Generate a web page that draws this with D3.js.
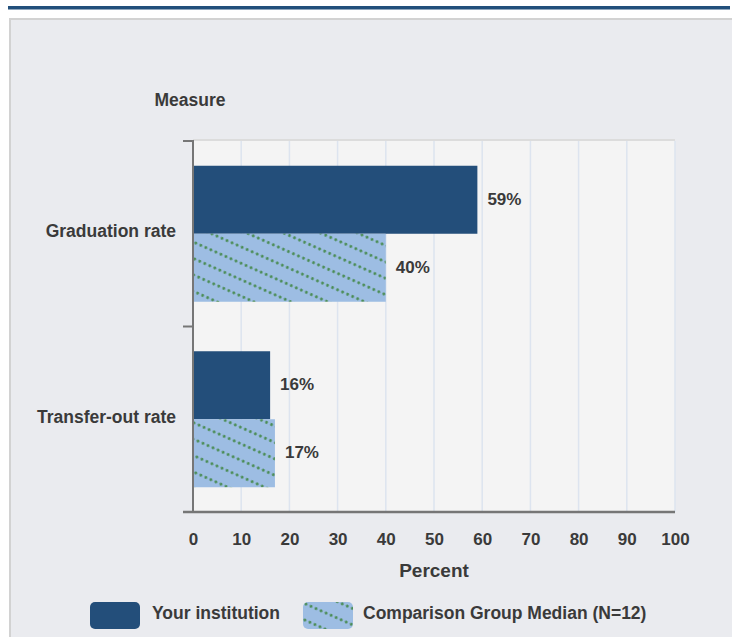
<!DOCTYPE html>
<html>
<head>
<meta charset="utf-8">
<script src="https://cdn.jsdelivr.net/npm/d3@7/dist/d3.min.js"></script>
<style>
  html, body { margin: 0; padding: 0; background: #ffffff; }
  svg { display: block; }
  text { font-family: "Liberation Sans", Arial, sans-serif; font-weight: bold; fill: #3a3a3a; }
</style>
</head>
<body>
<script>
const categories = ["Graduation rate", "Transfer-out rate"];
const seriesNames = ["Your institution", "Comparison Group Median (N=12)"];
const yourInstitution = [59, 16];
const comparisonMedian = [40, 17];
const xTickValues = [0, 10, 20, 30, 40, 50, 60, 70, 80, 90, 100];
const xTitle = "Percent";
const yTitle = "Measure";

const W = 732, H = 637;
const svg = d3.select("body").append("svg").attr("width", W).attr("height", H);

const defs = svg.append("defs");
const pat = defs.append("pattern")
  .attr("id", "hatch")
  .attr("patternUnits", "userSpaceOnUse")
  .attr("width", 5.5).attr("height", 15)
  .attr("patternTransform", "rotate(24)");
pat.append("rect").attr("width", 5.5).attr("height", 15).attr("fill", "#9dbde3");
pat.append("circle").attr("cx", 2.75).attr("cy", 7.5).attr("r", 1.45).attr("fill", "#4a8c55");

// top rule and panel
svg.append("rect").attr("x", 8).attr("y", 6).attr("width", 722).attr("height", 3.5).attr("fill", "#224f7b");
svg.append("rect").attr("x", 10).attr("y", 19).attr("width", 740).attr("height", 640)
  .attr("fill", "#eaebef").attr("stroke", "#d2d2d2").attr("stroke-width", 2);

const x = d3.scaleLinear().domain([0, 100]).range([193, 675]);
const y = d3.scaleBand().domain(categories).range([141, 512]).paddingInner(0).paddingOuter(0);
const ys = d3.scaleBand().domain(seriesNames).range([0, y.bandwidth()]).paddingInner(0).paddingOuter(0.364);

// plot background
svg.append("rect").attr("x", x(0)).attr("y", 140).attr("width", x(100) - x(0)).attr("height", 512 - 140)
  .attr("fill", "#f4f4f4");
svg.append("line").attr("x1", x(0)).attr("x2", x(100)).attr("y1", 140).attr("y2", 140)
  .attr("stroke", "#dcdcdc").attr("stroke-width", 2);

// gridlines
svg.append("g").selectAll("line").data(xTickValues.slice(1)).join("line")
  .attr("x1", d => x(d)).attr("x2", d => x(d))
  .attr("y1", 141).attr("y2", 512)
  .attr("stroke", "#dde4ef").attr("stroke-width", 1.5);

const series = [
  { name: seriesNames[0], values: yourInstitution, fill: "#234e7a" },
  { name: seriesNames[1], values: comparisonMedian, fill: "url(#hatch)" }
];

const gBars = svg.append("g");
series.forEach(s => {
  gBars.append("g").selectAll("rect").data(categories).join("rect")
    .attr("x", x(0))
    .attr("y", (c) => y(c) + ys(s.name))
    .attr("width", (c, i) => x(s.values[i]) - x(0))
    .attr("height", ys.bandwidth())
    .attr("fill", s.fill);
  gBars.append("g").selectAll("text").data(categories).join("text")
    .attr("x", (c, i) => x(s.values[i]) + 10)
    .attr("y", (c) => y(c) + ys(s.name) + ys.bandwidth() / 2)
    .attr("dy", "0.28em")
    .attr("font-size", 17)
    .text((c, i) => s.values[i] + "%");
});

// x axis
const xAxis = d3.axisBottom(x).tickValues(xTickValues).tickSize(0).tickPadding(21);
const gx = svg.append("g").attr("transform", "translate(0,512)").call(xAxis);
gx.select(".domain").remove();
gx.selectAll("text").attr("font-size", 17).attr("font-family", null).attr("fill", "#3a3a3a").attr("font-weight", "bold");
svg.append("line").attr("x1", 183).attr("x2", x(100)).attr("y1", 512).attr("y2", 512)
  .attr("stroke", "#767676").attr("stroke-width", 2.5);

// y axis
const yAxis = d3.axisLeft(y).tickSize(0).tickPadding(17);
const gy = svg.append("g").attr("transform", `translate(${x(0)},0)`).call(yAxis);
gy.select(".domain").remove();
gy.selectAll("text").attr("font-size", 17.5).attr("font-family", null).attr("fill", "#3a3a3a").attr("font-weight", "bold").attr("dy", "0.2em");
svg.append("line").attr("x1", x(0)).attr("x2", x(0)).attr("y1", 140).attr("y2", 513)
  .attr("stroke", "#767676").attr("stroke-width", 2);
const yBounds = [y.range()[0], y(categories[1])];
svg.append("g").selectAll("line").data(yBounds).join("line")
  .attr("x1", 183).attr("x2", x(0)).attr("y1", d => d).attr("y2", d => d)
  .attr("stroke", "#767676").attr("stroke-width", 2);

// titles
svg.append("text").attr("x", 190).attr("y", 106).attr("text-anchor", "middle").attr("font-size", 17.5).text(yTitle);
svg.append("text").attr("x", 434).attr("y", 577).attr("text-anchor", "middle").attr("font-size", 19).text(xTitle);

// legend
const legend = [
  { name: seriesNames[0], fill: "#234e7a", x: 90, tx: 152 },
  { name: seriesNames[1], fill: "url(#hatch)", x: 303, tx: 363 }
];
const gl = svg.append("g");
legend.forEach(l => {
  gl.append("rect").attr("x", l.x).attr("y", 602).attr("width", 50).attr("height", 27).attr("rx", 5)
    .attr("fill", l.fill);
  gl.append("text").attr("x", l.tx).attr("y", 613).attr("dy", "0.35em").attr("font-size", 17.5).text(l.name);
});
</script>
</body>
</html>
